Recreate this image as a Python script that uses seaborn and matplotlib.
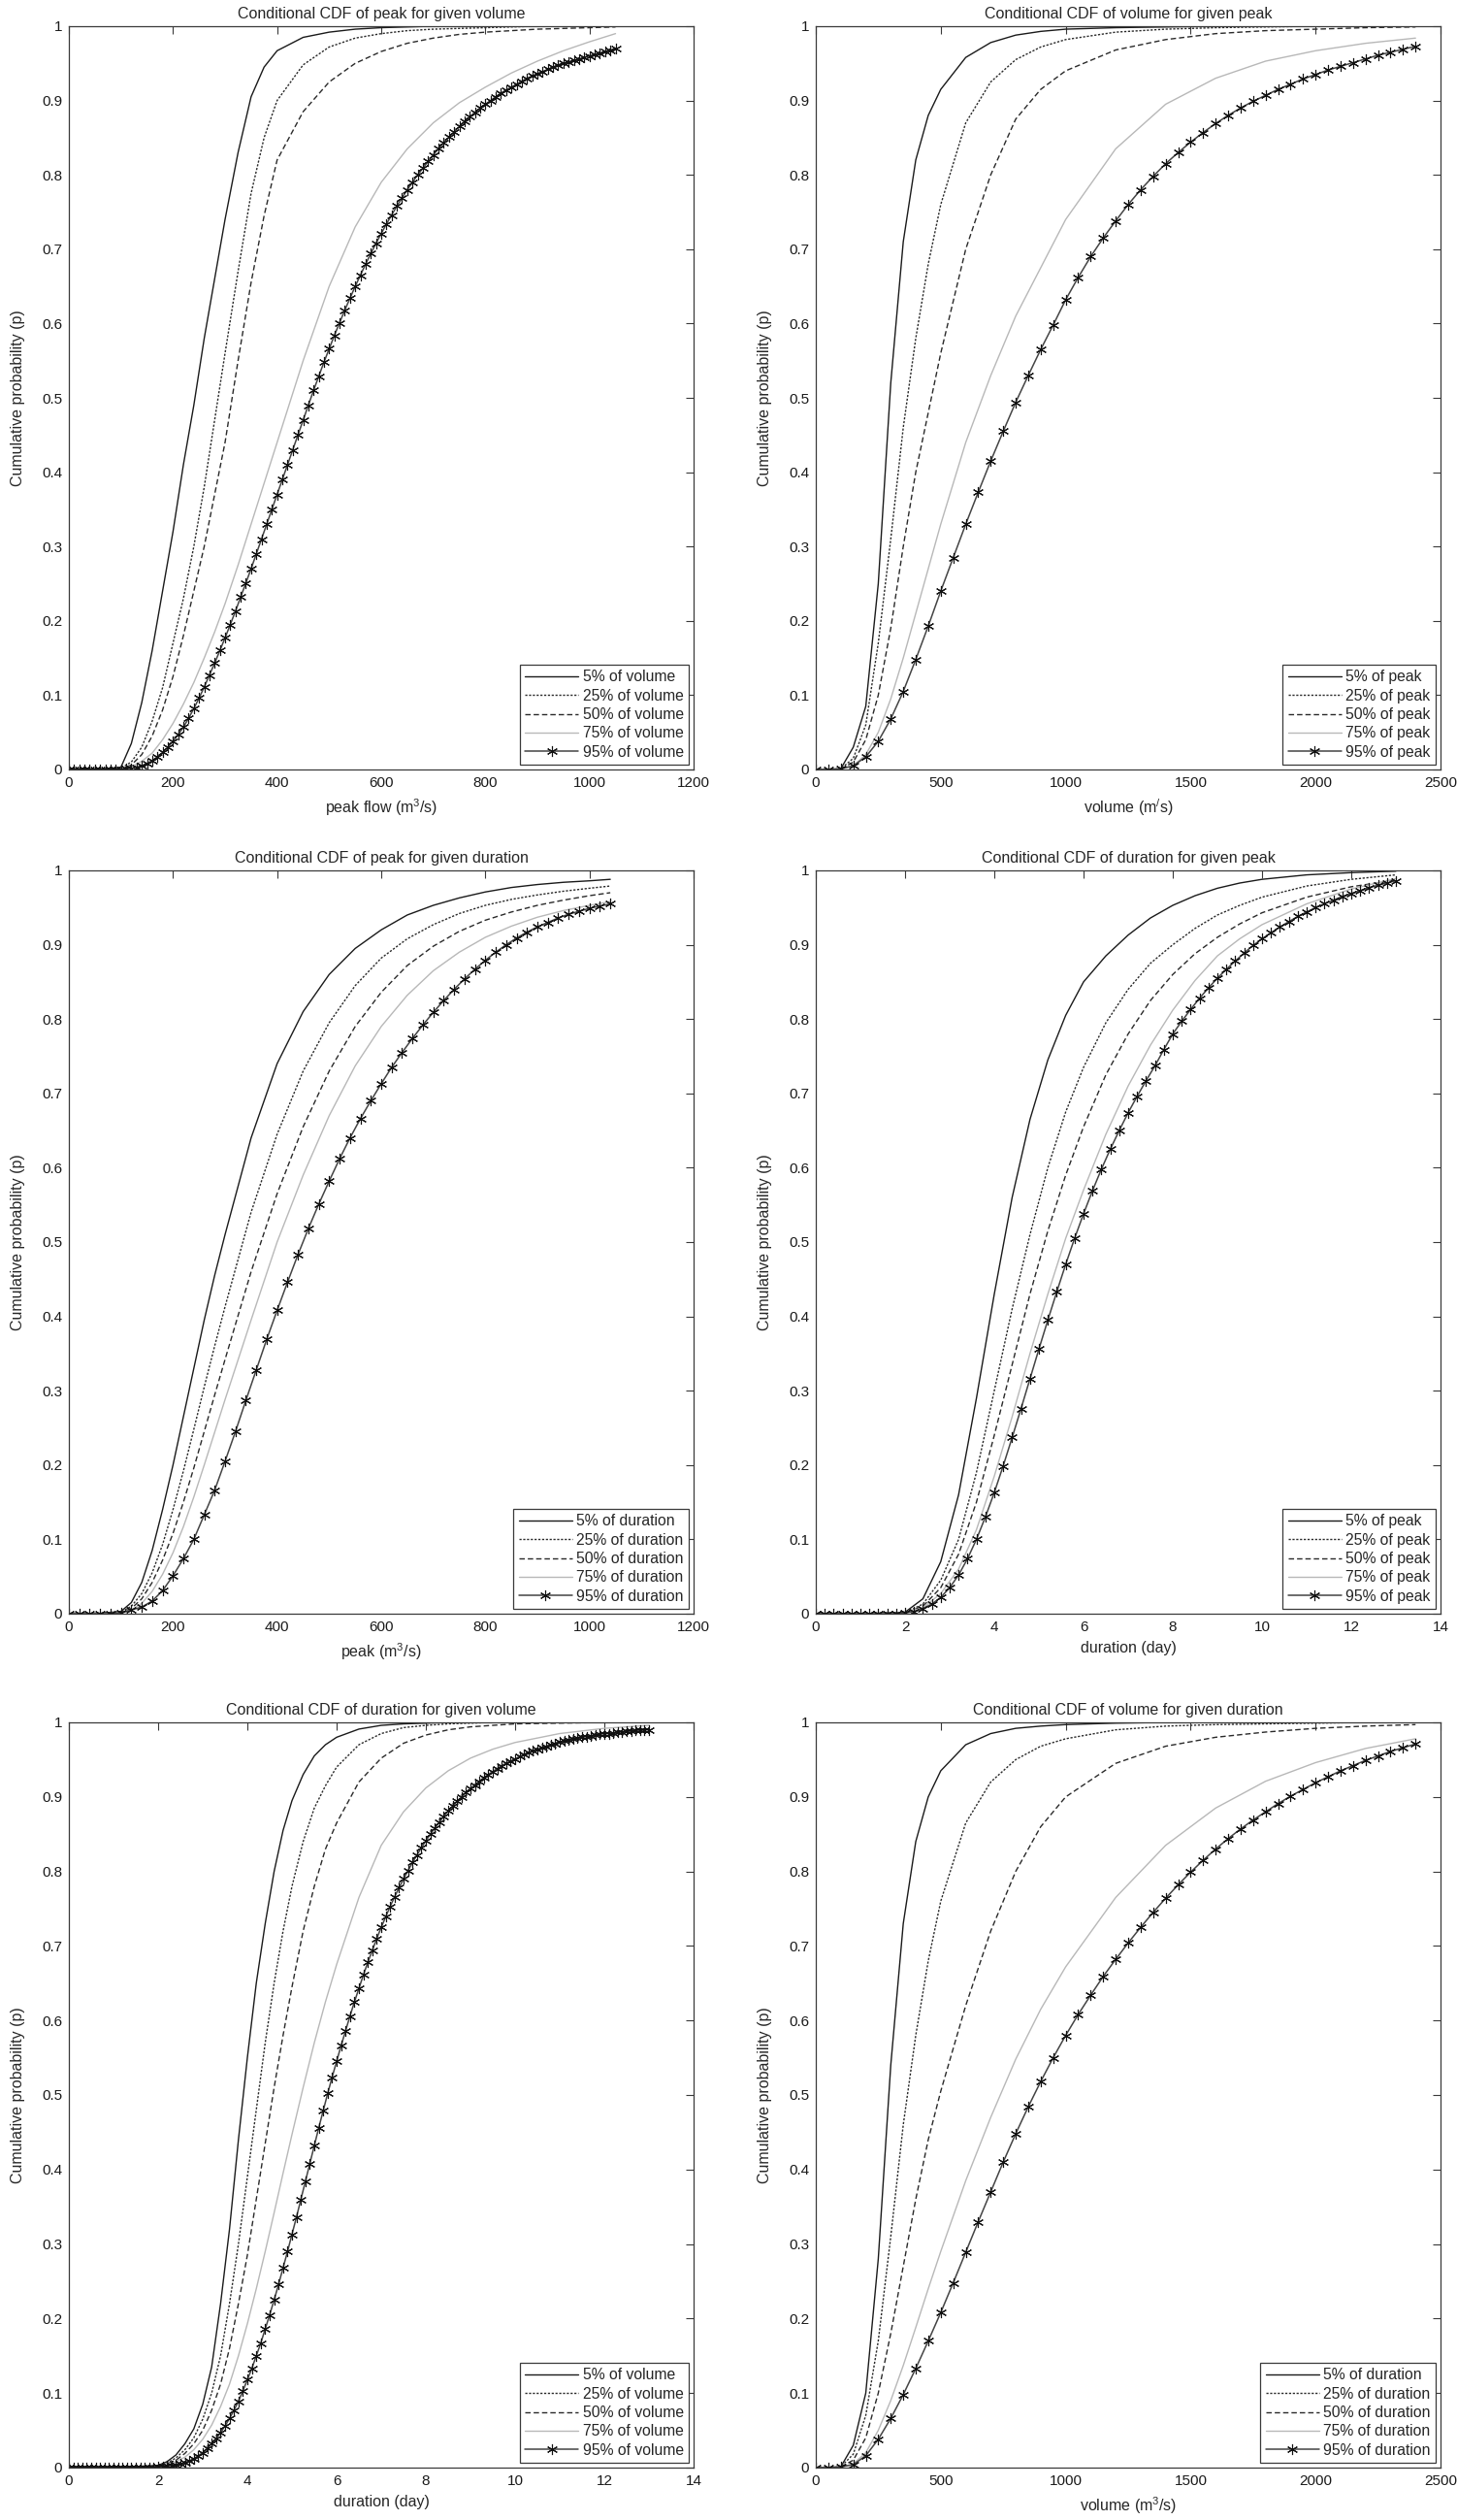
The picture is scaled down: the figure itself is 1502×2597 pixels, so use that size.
import numpy as np
import matplotlib
matplotlib.use("Agg")
import matplotlib.pyplot as plt
from matplotlib.ticker import FuncFormatter
import seaborn as sns

# ---- data ----
levels = ["5%", "25%", "50%", "75%", "95%"]

# panel 1: peak for given volume
p1_x = [0, 50, 100, 120, 140, 160, 180, 200, 220, 240, 260, 280, 300, 325, 350, 375, 400,
        450, 500, 550, 600, 650, 700, 750, 800, 850, 900, 950, 1000, 1050]
p1_y05 = [0, 0, 0.003, 0.035, 0.09, 0.16, 0.24, 0.32, 0.41, 0.49, 0.58, 0.66, 0.74, 0.83, 0.905,
          0.945, 0.967, 0.985, 0.992, 0.996, 0.998, 0.999, 1, 1, 1, 1, 1, 1, 1, 1]
p1_y25 = [0, 0, 0.002, 0.01, 0.03, 0.065, 0.11, 0.17, 0.23, 0.3, 0.38, 0.47, 0.56, 0.67, 0.775,
          0.85, 0.9, 0.948, 0.972, 0.984, 0.99, 0.994, 0.996, 0.997, 0.998, 0.999, 1, 1, 1, 1]
p1_y50 = [0, 0, 0.001, 0.006, 0.02, 0.045, 0.08, 0.125, 0.18, 0.24, 0.3, 0.37, 0.44, 0.55, 0.655,
          0.745, 0.82, 0.885, 0.925, 0.95, 0.966, 0.977, 0.984, 0.989, 0.992, 0.994, 0.996, 0.997,
          0.998, 0.999]
p1_y75 = [0, 0, 0.001, 0.004, 0.011, 0.022, 0.04, 0.062, 0.088, 0.117, 0.15, 0.185, 0.223, 0.275,
          0.33, 0.385, 0.44, 0.55, 0.65, 0.73, 0.79, 0.835, 0.87, 0.897, 0.918, 0.937, 0.953,
          0.967, 0.979, 0.99]
p1_xs = np.arange(0, 1051, 10)
p1_y95 = [0, 0, 0, 0, 0, 0, 0, 0, 0, 0.0002,
          0.0005, 0.001, 0.0015, 0.003, 0.005, 0.008, 0.012, 0.017, 0.023, 0.03,
          0.038, 0.047, 0.057, 0.069, 0.082, 0.096, 0.111, 0.127, 0.143, 0.16,
          0.177, 0.195, 0.213, 0.232, 0.251, 0.27, 0.29, 0.31, 0.33, 0.35,
          0.37, 0.39, 0.41, 0.43, 0.45, 0.47, 0.49, 0.51, 0.529, 0.548,
          0.566, 0.584, 0.601, 0.618, 0.634, 0.65, 0.665, 0.68, 0.694, 0.708,
          0.721, 0.734, 0.746, 0.758, 0.769, 0.78, 0.79, 0.8, 0.809, 0.818,
          0.827, 0.835, 0.843, 0.851, 0.858, 0.865, 0.872, 0.878, 0.884, 0.89,
          0.895, 0.9, 0.905, 0.91, 0.914, 0.918, 0.922, 0.926, 0.93, 0.933,
          0.936, 0.939, 0.942, 0.945, 0.948, 0.95, 0.952, 0.954, 0.956, 0.958,
          0.96, 0.962, 0.964, 0.966, 0.968, 0.97]

# panel 2: volume for given peak
p2_x = [0, 50, 100, 150, 200, 250, 300, 350, 400, 450, 500, 600, 700, 800, 900, 1000,
        1200, 1400, 1600, 1800, 2000, 2200, 2400]
p2_y05 = [0, 0, 0.001, 0.03, 0.085, 0.25, 0.52, 0.71, 0.82, 0.88, 0.915, 0.958, 0.978, 0.988,
          0.993, 0.996, 0.998, 0.999, 1, 1, 1, 1, 1]
p2_y25 = [0, 0, 0.001, 0.015, 0.06, 0.17, 0.31, 0.46, 0.58, 0.68, 0.76, 0.87, 0.925, 0.955,
          0.972, 0.982, 0.992, 0.996, 0.998, 0.999, 1, 1, 1]
p2_y50 = [0, 0, 0.0005, 0.01, 0.04, 0.1, 0.19, 0.3, 0.4, 0.48, 0.56, 0.7, 0.8, 0.875, 0.915,
          0.94, 0.968, 0.982, 0.99, 0.994, 0.996, 0.998, 0.999]
p2_y75 = [0, 0, 0.0005, 0.005, 0.02, 0.05, 0.095, 0.15, 0.21, 0.27, 0.33, 0.44, 0.53, 0.61,
          0.675, 0.74, 0.835, 0.895, 0.93, 0.953, 0.967, 0.977, 0.984]
p2_xs = np.arange(0, 2401, 50)
p2_y95 = [0, 0, 0.001, 0.005, 0.017, 0.038, 0.068, 0.105, 0.148, 0.193,
          0.24, 0.285, 0.33, 0.373, 0.415, 0.455, 0.494, 0.53, 0.565, 0.598,
          0.632, 0.662, 0.69, 0.715, 0.738, 0.76, 0.78, 0.798, 0.815, 0.83,
          0.844, 0.857, 0.869, 0.88, 0.89, 0.899, 0.907, 0.915, 0.922, 0.929,
          0.935, 0.941, 0.946, 0.951, 0.956, 0.961, 0.965, 0.969, 0.973]

# panel 3: peak for given duration
p3_x = [0, 50, 100, 120, 140, 160, 180, 200, 220, 240, 260, 280, 300, 350, 400, 450, 500,
        550, 600, 650, 700, 750, 800, 850, 900, 950, 1000, 1040]
p3_y05 = [0, 0, 0.003, 0.015, 0.042, 0.085, 0.14, 0.2, 0.265, 0.33, 0.395, 0.455, 0.51, 0.64,
          0.74, 0.81, 0.86, 0.895, 0.92, 0.94, 0.953, 0.963, 0.971, 0.977, 0.981, 0.984, 0.986,
          0.988]
p3_y25 = [0, 0, 0.002, 0.01, 0.027, 0.055, 0.093, 0.14, 0.192, 0.248, 0.305, 0.36, 0.413, 0.54,
          0.645, 0.73, 0.795, 0.845, 0.882, 0.908, 0.927, 0.942, 0.953, 0.961, 0.967, 0.972,
          0.976, 0.979]
p3_y50 = [0, 0, 0.002, 0.007, 0.02, 0.042, 0.072, 0.108, 0.15, 0.196, 0.245, 0.294, 0.342, 0.46,
          0.565, 0.655, 0.73, 0.79, 0.836, 0.872, 0.898, 0.918, 0.933, 0.944, 0.953, 0.96, 0.966,
          0.97]
p3_y75 = [0, 0, 0.001, 0.005, 0.014, 0.03, 0.053, 0.082, 0.117, 0.157, 0.2, 0.244, 0.288, 0.395,
          0.5, 0.59, 0.67, 0.737, 0.79, 0.832, 0.865, 0.89, 0.91, 0.925, 0.937, 0.946, 0.953,
          0.958]
p3_xs = np.arange(0, 1041, 20)
p3_y95 = [0, 0, 0, 0, 0,
          0.001, 0.005, 0.009, 0.017, 0.031, 0.051, 0.074, 0.1, 0.133, 0.166,
          0.205, 0.245, 0.287, 0.328, 0.369, 0.408, 0.446, 0.483, 0.518, 0.551,
          0.582, 0.612, 0.64, 0.666, 0.69, 0.713, 0.735, 0.755, 0.774, 0.792,
          0.809, 0.825, 0.84, 0.854, 0.867, 0.879, 0.89, 0.9, 0.909, 0.917,
          0.924, 0.93, 0.936, 0.941, 0.945, 0.949, 0.952, 0.955]

# panel 4: duration for given peak
p4_x = [0, 1, 2, 2.4, 2.8, 3.2, 3.6, 4, 4.4, 4.8, 5.2, 5.6, 6, 6.5, 7, 7.5, 8, 8.5, 9, 9.5,
        10, 11, 12, 13]
p4_y05 = [0, 0, 0.002, 0.02, 0.07, 0.16, 0.29, 0.43, 0.56, 0.665, 0.745, 0.805, 0.85, 0.885,
          0.913, 0.936, 0.953, 0.966, 0.976, 0.983, 0.988, 0.994, 0.997, 0.999]
p4_y25 = [0, 0, 0.001, 0.013, 0.045, 0.1, 0.19, 0.3, 0.41, 0.51, 0.6, 0.675, 0.735, 0.795,
          0.84, 0.875, 0.9, 0.922, 0.94, 0.953, 0.964, 0.979, 0.988, 0.994]
p4_y50 = [0, 0, 0.001, 0.01, 0.035, 0.08, 0.15, 0.24, 0.335, 0.43, 0.515, 0.59, 0.655, 0.725,
          0.78, 0.825, 0.86, 0.888, 0.91, 0.928, 0.943, 0.964, 0.978, 0.987]
p4_y75 = [0, 0, 0.001, 0.008, 0.027, 0.06, 0.113, 0.185, 0.265, 0.35, 0.43, 0.505, 0.57, 0.645,
          0.71, 0.765, 0.812, 0.852, 0.885, 0.908, 0.927, 0.955, 0.975, 0.989]
p4_xs = np.arange(0, 66) * 0.2
p4_y95 = [0, 0, 0, 0, 0, 0, 0, 0, 0, 0,
          0.001, 0.003, 0.007, 0.013, 0.022, 0.035, 0.052, 0.074, 0.1, 0.13,
          0.163, 0.199, 0.237, 0.276, 0.316, 0.356, 0.395, 0.433, 0.47, 0.505,
          0.538, 0.569, 0.598, 0.625, 0.65, 0.674, 0.696, 0.717, 0.737, 0.759,
          0.78, 0.797, 0.813, 0.828, 0.842, 0.855, 0.867, 0.878, 0.889, 0.899,
          0.908, 0.916, 0.924, 0.931, 0.938, 0.944, 0.95, 0.955, 0.96, 0.965,
          0.969, 0.973, 0.977, 0.98, 0.983, 0.986]

# panel 5: duration for given volume
p5_x = [0, 1, 2, 2.2, 2.4, 2.6, 2.8, 3, 3.2, 3.4, 3.6, 3.8, 4, 4.2, 4.4, 4.6, 4.8, 5, 5.25,
        5.5, 5.75, 6, 6.5, 7, 7.5, 8, 8.5, 9, 9.5, 10, 11, 12, 13]
p5_y05 = [0, 0, 0.003, 0.008, 0.017, 0.032, 0.052, 0.085, 0.135, 0.22, 0.32, 0.44, 0.55, 0.65,
          0.73, 0.8, 0.855, 0.895, 0.93, 0.955, 0.97, 0.98, 0.991, 0.996, 0.998, 0.999, 1, 1,
          1, 1, 1, 1, 1]
p5_y25 = [0, 0, 0.002, 0.006, 0.013, 0.024, 0.04, 0.065, 0.1, 0.15, 0.22, 0.3, 0.39, 0.48,
          0.57, 0.65, 0.72, 0.78, 0.84, 0.885, 0.915, 0.94, 0.97, 0.985, 0.993, 0.996, 0.998,
          0.999, 1, 1, 1, 1, 1]
p5_y50 = [0, 0, 0.002, 0.005, 0.01, 0.019, 0.032, 0.05, 0.077, 0.112, 0.16, 0.22, 0.285, 0.36,
          0.435, 0.51, 0.58, 0.645, 0.72, 0.78, 0.83, 0.865, 0.92, 0.952, 0.972, 0.983, 0.99,
          0.994, 0.996, 0.998, 0.999, 1, 1]
p5_y75 = [0, 0, 0.001, 0.004, 0.008, 0.014, 0.024, 0.038, 0.057, 0.082, 0.112, 0.15, 0.193,
          0.24, 0.29, 0.342, 0.395, 0.447, 0.51, 0.57, 0.625, 0.675, 0.765, 0.835, 0.88, 0.912,
          0.935, 0.952, 0.964, 0.973, 0.985, 0.992, 0.996]
p5_xs = np.arange(0, 131) * 0.1
p5_y95 = [0] * 20 + [
    0.001, 0.001, 0.002, 0.003, 0.004, 0.005, 0.007, 0.009, 0.012, 0.016,
    0.02, 0.026, 0.032, 0.039, 0.047, 0.056, 0.066, 0.077, 0.089, 0.103,
    0.118, 0.133, 0.15, 0.167, 0.186, 0.205, 0.225, 0.246, 0.268, 0.29,
    0.313, 0.336, 0.36, 0.384, 0.408, 0.432, 0.456, 0.479, 0.502, 0.524,
    0.545, 0.566, 0.586, 0.606, 0.625, 0.643, 0.661, 0.678, 0.694, 0.71,
    0.725, 0.739, 0.753, 0.766, 0.778, 0.79, 0.801, 0.812, 0.822, 0.832,
    0.841, 0.85, 0.858, 0.866, 0.874, 0.881, 0.888, 0.894, 0.9, 0.906,
    0.911, 0.916, 0.921, 0.926, 0.93, 0.934, 0.938, 0.942, 0.945, 0.948,
    0.951, 0.954, 0.957, 0.96, 0.962, 0.964, 0.966, 0.968, 0.97, 0.972,
    0.974, 0.975, 0.977, 0.978, 0.979, 0.98, 0.981, 0.982, 0.983, 0.984,
    0.985, 0.985, 0.986, 0.987, 0.987, 0.988, 0.988, 0.989, 0.989, 0.99,
    0.99]

# panel 6: volume for given duration
p6_x = p2_x
p6_y05 = [0, 0, 0.001, 0.03, 0.1, 0.28, 0.54, 0.73, 0.84, 0.9, 0.935, 0.97, 0.985, 0.992,
          0.995, 0.997, 0.999, 1, 1, 1, 1, 1, 1]
p6_y25 = [0, 0, 0.001, 0.018, 0.07, 0.17, 0.31, 0.46, 0.58, 0.68, 0.76, 0.865, 0.92, 0.95,
          0.968, 0.978, 0.99, 0.995, 0.997, 0.998, 0.999, 1, 1]
p6_y50 = [0, 0, 0.001, 0.01, 0.04, 0.1, 0.18, 0.27, 0.36, 0.44, 0.505, 0.62, 0.72, 0.8, 0.86,
          0.9, 0.945, 0.968, 0.98, 0.987, 0.992, 0.995, 0.997]
p6_y75 = [0, 0, 0.0005, 0.005, 0.02, 0.05, 0.09, 0.137, 0.188, 0.24, 0.29, 0.385, 0.47, 0.548,
          0.615, 0.672, 0.765, 0.835, 0.885, 0.921, 0.946, 0.965, 0.978]
p6_xs = p2_xs
p6_y95 = [0, 0, 0.001, 0.004, 0.016, 0.038, 0.066, 0.098, 0.133, 0.17,
          0.208, 0.248, 0.289, 0.33, 0.37, 0.41, 0.448, 0.484, 0.518, 0.55,
          0.58, 0.608, 0.634, 0.659, 0.682, 0.704, 0.725, 0.745, 0.764, 0.782,
          0.799, 0.815, 0.83, 0.844, 0.857, 0.869, 0.88, 0.891, 0.901, 0.91,
          0.919, 0.927, 0.935, 0.942, 0.949, 0.955, 0.961, 0.966, 0.971]

# ---- styling ----
sns.set_style("white")
plt.rcParams["font.family"] = ["Liberation Sans", "DejaVu Sans"]
plt.rcParams["mathtext.fontset"] = "custom"
plt.rcParams["mathtext.rm"] = "Liberation Sans"
plt.rcParams["mathtext.it"] = "Liberation Sans:italic"
plt.rcParams["font.size"] = 11

AX_COL = "#3a3a3a"
line_styles = [
    dict(color="#1a1a1a", linestyle="-", lw=1.0),
    dict(color="#2a2a2a", linestyle=(0, (1.6, 1.2)), lw=1.0),
    dict(color="#2a2a2a", linestyle=(0, (4, 2.2)), lw=1.0),
    dict(color="#b8b8b8", linestyle="-", lw=1.0),
]

W, H = 1502, 2597
fig = plt.figure(figsize=(W / 100, H / 100), dpi=100)

cols = [(71, 715), (841, 1485)]
rows = [(27, 793), (897, 1663), (1775, 2543)]


def make_ax(r, c):
    x0, x1 = cols[c]
    y0, y1 = rows[r]
    return fig.add_axes([x0 / W, 1 - y1 / H, (x1 - x0) / W, (y1 - y0) / H])


def draw_panel(ax, xl, ys_lines, xs, y95, what, title, xlabel, xmax, xstep):
    for y, lab, st in zip(ys_lines, levels[:4], line_styles):
        sns.lineplot(x=xl, y=y, ax=ax, label=f"{lab} of {what}", **st)
    sns.lineplot(x=xs, y=y95, ax=ax, color="#444444", lw=1.1, marker=(6, 2, 0),
                 markersize=8, markeredgewidth=0.8, markerfacecolor="#111111",
                 markeredgecolor="#111111", label=f"95% of {what}")
    ax.set_xlim(0, xmax)
    ax.set_ylim(0, 1)
    ax.set_xticks(np.arange(0, xmax + xstep / 2, xstep))
    ax.set_yticks(np.arange(0, 1.01, 0.1))
    ax.yaxis.set_major_formatter(FuncFormatter(lambda v, _: f"{round(v, 2):g}"))
    ax.xaxis.set_major_formatter(FuncFormatter(lambda v, _: f"{v:g}"))
    ax.tick_params(direction="in", length=6, width=0.8, labelcolor="#1a1a1a",
                   top=True, right=True, labelsize=11, pad=5, color=AX_COL)
    for s in ax.spines.values():
        s.set_color(AX_COL)
        s.set_linewidth(0.9)
    ax.set_title(title, fontsize=11.5, pad=6)
    ax.set_xlabel(xlabel, fontsize=11.5, labelpad=5)
    ax.set_ylabel("Cumulative probability (p)", fontsize=11.5, labelpad=12)
    leg = ax.legend(loc="lower right", fontsize=11.3, frameon=True, fancybox=False,
                    edgecolor=AX_COL, framealpha=1, handlelength=3.5,
                    labelspacing=0.28, borderpad=0.35, handletextpad=0.3,
                    borderaxespad=0.3)
    leg.get_frame().set_linewidth(0.9)


panels = [
    (0, 0, p1_x, [p1_y05, p1_y25, p1_y50, p1_y75], p1_xs, p1_y95, "volume",
     "Conditional CDF of peak for given volume", "peak flow (m$^3$/s)", 1200, 200),
    (0, 1, p2_x, [p2_y05, p2_y25, p2_y50, p2_y75], p2_xs, p2_y95, "peak",
     "Conditional CDF of volume for given peak", "volume (m$^{/}$s)", 2500, 500),
    (1, 0, p3_x, [p3_y05, p3_y25, p3_y50, p3_y75], p3_xs, p3_y95, "duration",
     "Conditional CDF of peak for given duration", "peak (m$^3$/s)", 1200, 200),
    (1, 1, p4_x, [p4_y05, p4_y25, p4_y50, p4_y75], p4_xs, p4_y95, "peak",
     "Conditional CDF of duration for given peak", "duration (day)", 14, 2),
    (2, 0, p5_x, [p5_y05, p5_y25, p5_y50, p5_y75], p5_xs, p5_y95, "volume",
     "Conditional CDF of duration for given volume", "duration (day)", 14, 2),
    (2, 1, p6_x, [p6_y05, p6_y25, p6_y50, p6_y75], p6_xs, p6_y95, "duration",
     "Conditional CDF of volume for given duration", "volume (m$^3$/s)", 2500, 500),
]

for r, c, xl, ys, xs, y95, what, title, xlabel, xmax, xstep in panels:
    ax = make_ax(r, c)
    draw_panel(ax, xl, ys, xs, y95, what, title, xlabel, xmax, xstep)

fig.savefig("out.png", dpi=100, facecolor="white")
